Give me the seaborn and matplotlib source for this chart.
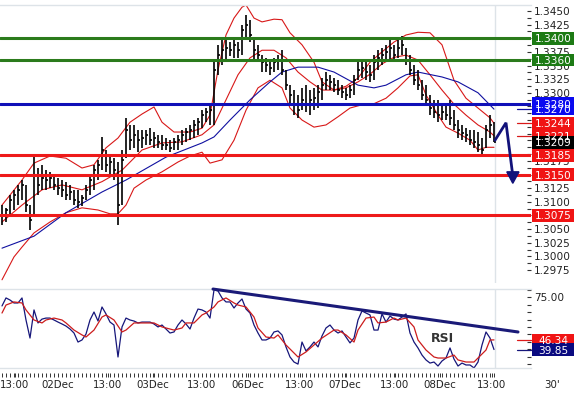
import matplotlib
matplotlib.use("Agg")
import numpy as np
import pandas as pd
import seaborn as sns
import matplotlib.pyplot as plt
from matplotlib.patches import Rectangle, Polygon
from matplotlib.ticker import FixedLocator

sns.set_theme(style="white")
plt.rcParams["font.family"] = ["DejaVu Sans"]

# ---------------- data (30' bars) ----------------
high = [1.3094, 1.3089, 1.3113, 1.3122, 1.3131, 1.3140, 1.3131, 1.3094, 1.3182, 1.3162,
        1.3168, 1.3158, 1.3155, 1.3149, 1.3144, 1.3140, 1.3137, 1.3131, 1.3122, 1.3122,
        1.3113, 1.3131, 1.3149, 1.3168, 1.3177, 1.3219, 1.3195, 1.3186, 1.3180, 1.3173,
        1.3195, 1.3254, 1.3241, 1.3241, 1.3232, 1.3232, 1.3232, 1.3235, 1.3228, 1.3223,
        1.3223, 1.3217, 1.3213, 1.3217, 1.3223, 1.3232, 1.3235, 1.3241, 1.3250, 1.3254,
        1.3268, 1.3272, 1.3278, 1.3360, 1.3388, 1.3397, 1.3397, 1.3393, 1.3397, 1.3393,
        1.3424, 1.3443, 1.3434, 1.3400, 1.3388, 1.3369, 1.3364, 1.3360, 1.3364, 1.3369,
        1.3378, 1.3342, 1.3314, 1.3305, 1.3296, 1.3309, 1.3314, 1.3305, 1.3309, 1.3314,
        1.3327, 1.3338, 1.3333, 1.3327, 1.3323, 1.3314, 1.3309, 1.3314, 1.3333, 1.3356,
        1.3360, 1.3356, 1.3351, 1.3369, 1.3378, 1.3382, 1.3388, 1.3397, 1.3388, 1.3397,
        1.3404, 1.3382, 1.3369, 1.3351, 1.3342, 1.3323, 1.3314, 1.3296, 1.3287, 1.3287,
        1.3278, 1.3281, 1.3287, 1.3268, 1.3250, 1.3241, 1.3235, 1.3232, 1.3232, 1.3228,
        1.3217, 1.3241, 1.3259, 1.3246]
low = [1.3058, 1.3063, 1.3076, 1.3085, 1.3094, 1.3103, 1.3081, 1.3048, 1.3076, 1.3113,
       1.3122, 1.3122, 1.3126, 1.3122, 1.3113, 1.3109, 1.3103, 1.3103, 1.3094, 1.3089,
       1.3092, 1.3103, 1.3113, 1.3122, 1.3140, 1.3158, 1.3155, 1.3149, 1.3140, 1.3058,
       1.3094, 1.3180, 1.3195, 1.3199, 1.3191, 1.3199, 1.3204, 1.3204, 1.3199, 1.3199,
       1.3195, 1.3195, 1.3191, 1.3195, 1.3195, 1.3204, 1.3210, 1.3213, 1.3217, 1.3223,
       1.3235, 1.3246, 1.3241, 1.3241, 1.3333, 1.3351, 1.3360, 1.3367, 1.3364, 1.3364,
       1.3369, 1.3397, 1.3393, 1.3360, 1.3356, 1.3338, 1.3338, 1.3333, 1.3338, 1.3342,
       1.3333, 1.3305, 1.3278, 1.3259, 1.3254, 1.3268, 1.3265, 1.3259, 1.3268, 1.3272,
       1.3287, 1.3305, 1.3305, 1.3301, 1.3296, 1.3290, 1.3287, 1.3290, 1.3296, 1.3323,
       1.3327, 1.3323, 1.3320, 1.3323, 1.3342, 1.3351, 1.3356, 1.3360, 1.3356, 1.3364,
       1.3369, 1.3351, 1.3333, 1.3314, 1.3305, 1.3287, 1.3278, 1.3259, 1.3254, 1.3246,
       1.3250, 1.3250, 1.3241, 1.3232, 1.3217, 1.3213, 1.3210, 1.3204, 1.3199, 1.3191,
       1.3182, 1.3199, 1.3217, 1.3210]
close = [1.3076, 1.3085, 1.3103, 1.3113, 1.3122, 1.3131, 1.3094, 1.3067, 1.3149, 1.3131,
         1.3144, 1.3140, 1.3144, 1.3131, 1.3126, 1.3122, 1.3113, 1.3118, 1.3103, 1.3100,
         1.3107, 1.3122, 1.3140, 1.3158, 1.3168, 1.3195, 1.3168, 1.3173, 1.3158, 1.3094,
         1.3177, 1.3232, 1.3213, 1.3223, 1.3213, 1.3217, 1.3223, 1.3213, 1.3217, 1.3210,
         1.3204, 1.3204, 1.3199, 1.3210, 1.3213, 1.3223, 1.3228, 1.3232, 1.3241, 1.3246,
         1.3259, 1.3265, 1.3268, 1.3342, 1.3369, 1.3378, 1.3382, 1.3378, 1.3388, 1.3378,
         1.3415, 1.3424, 1.3406, 1.3378, 1.3369, 1.3356, 1.3351, 1.3345, 1.3356, 1.3360,
         1.3342, 1.3314, 1.3296, 1.3278, 1.3268, 1.3287, 1.3278, 1.3287, 1.3290, 1.3301,
         1.3314, 1.3323, 1.3320, 1.3314, 1.3305, 1.3301, 1.3296, 1.3305, 1.3323, 1.3342,
         1.3345, 1.3338, 1.3333, 1.3356, 1.3364, 1.3369, 1.3375, 1.3382, 1.3369, 1.3382,
         1.3388, 1.3360, 1.3342, 1.3323, 1.3314, 1.3296, 1.3287, 1.3272, 1.3265, 1.3259,
         1.3265, 1.3259, 1.3254, 1.3241, 1.3232, 1.3226, 1.3223, 1.3213, 1.3210, 1.3204,
         1.3195, 1.3232, 1.3241, 1.3209]

# Bollinger bands (upper / middle / lower) and moving average, sampled by bar index
upper_idx = [0, 5, 8, 12, 16, 20, 23, 26, 29, 32, 35, 38, 40, 43, 47, 50, 52, 54, 56, 58,
             60, 61, 63, 65, 68, 70, 72, 75, 78, 80, 83, 86, 89, 92, 95, 98, 101, 104, 107,
             110, 113, 116, 119, 122, 123]
upper = [1.3094, 1.3140, 1.3171, 1.3184, 1.3180, 1.3162, 1.3168, 1.3199, 1.3217, 1.3246,
         1.3261, 1.3274, 1.3246, 1.3228, 1.3228, 1.3235, 1.3259, 1.3342, 1.3406, 1.3437,
         1.3457, 1.3461, 1.3437, 1.3430, 1.3435, 1.3434, 1.3410, 1.3388, 1.3356, 1.3320,
         1.3305, 1.3312, 1.3327, 1.3356, 1.3375, 1.3393, 1.3406, 1.3411, 1.3410, 1.3388,
         1.3323, 1.3290, 1.3272, 1.3254, 1.3244]
middle_idx = [0, 5, 10, 15, 20, 25, 30, 35, 40, 45, 50, 53, 56, 59, 62, 65, 68, 71, 74,
              77, 80, 83, 86, 89, 92, 95, 98, 101, 104, 107, 110, 113, 116, 119, 122, 123]
middle = [1.3063, 1.3094, 1.3122, 1.3131, 1.3122, 1.3137, 1.3158, 1.3195, 1.3208, 1.3210,
          1.3223, 1.3241, 1.3287, 1.3333, 1.3364, 1.3378, 1.3378, 1.3364, 1.3338, 1.3320,
          1.3305, 1.3305, 1.3309, 1.3320, 1.3334, 1.3353, 1.3365, 1.3369, 1.3360, 1.3333,
          1.3305, 1.3279, 1.3259, 1.3241, 1.3228, 1.3221]
lower_idx = [0, 3, 5, 8, 12, 16, 20, 24, 27, 29, 31, 33, 36, 40, 44, 47, 50, 52, 55, 58,
             61, 64, 67, 70, 72, 75, 78, 81, 84, 87, 90, 93, 96, 99, 102, 104, 106, 109,
             111, 114, 117, 119, 121, 123]
lower = [1.2957, 1.2999, 1.3017, 1.3043, 1.3063, 1.3080, 1.3089, 1.3085, 1.3078, 1.3078,
         1.3094, 1.3125, 1.3140, 1.3155, 1.3173, 1.3184, 1.3191, 1.3171, 1.3177, 1.3213,
         1.3268, 1.3309, 1.3323, 1.3309, 1.3272, 1.3250, 1.3237, 1.3241, 1.3256, 1.3272,
         1.3278, 1.3280, 1.3290, 1.3309, 1.3331, 1.3333, 1.3296, 1.3259, 1.3237, 1.3226,
         1.3213, 1.3195, 1.3200, 1.3200]
ma_idx = [0, 8, 16, 25, 31, 41, 50, 53, 57, 62, 67, 70, 74, 79, 83, 89, 93, 96, 101, 104,
          110, 114, 119, 123]
ma = [1.3015, 1.3037, 1.3080, 1.3118, 1.3140, 1.3182, 1.3208, 1.3219, 1.3250, 1.3287,
      1.3320, 1.3338, 1.3347, 1.3347, 1.3338, 1.3314, 1.3309, 1.3314, 1.3333, 1.3338,
      1.3329, 1.3320, 1.3300, 1.3270]

# support / resistance levels
green_levels = [1.3400, 1.3360]
blue_levels = [1.3280]
red_levels = [1.3185, 1.3150, 1.3075]

# forecast arrow (time index, price)
arrow_idx = [123.25, 126.0, 127.75]
arrow_price = [1.3213, 1.3245, 1.3145]
arrowhead_idx = [126.2, 129.25, 127.7]
arrowhead_price = [1.3155, 1.3155, 1.3134]

# RSI
rsi = [69.3, 74.7, 73.3, 71.3, 71.3, 74.7, 59.8, 47.6, 66.6, 57.8,
       60.4, 61.1, 61.1, 59.8, 58.4, 57.1, 55.7, 53.7, 51.0, 44.9,
       46.3, 50.3, 59.8, 65.2, 59.1, 68.6, 63.9, 58.4, 56.4, 34.8,
       55.1, 61.1, 59.8, 59.1, 57.8, 58.4, 58.4, 58.4, 57.1, 55.1,
       56.4, 53.7, 51.0, 51.7, 56.4, 59.8, 57.1, 53.7, 61.1, 67.2,
       66.6, 65.2, 61.1, 80.1, 79.4, 74.7, 72.0, 72.0, 67.9, 71.3,
       74.0, 67.2, 64.5, 56.4, 51.0, 46.3, 46.3, 47.6, 51.7, 52.4,
       49.7, 41.6, 34.8, 31.4, 30.0, 44.9, 38.9, 41.6, 44.9, 41.6,
       49.0, 54.4, 56.4, 53.0, 51.0, 52.4, 48.3, 44.3, 47.6, 59.8,
       65.9, 64.5, 63.2, 53.0, 53.0, 63.9, 58.4, 62.5, 60.4, 59.8,
       61.8, 63.9, 51.0, 44.9, 40.9, 36.1, 32.8, 30.7, 31.4, 28.7,
       32.1, 34.1, 40.9, 33.4, 28.7, 30.7, 29.4, 29.4, 27.4, 31.4,
       42.9, 51.7, 47.6, 39.85]
rsi_sig_idx = [0, 1, 3, 5, 6, 8, 10, 11, 13, 15, 16, 18, 20, 21, 23, 25, 26, 28, 30, 31,
               33, 35, 38, 40, 43, 45, 46, 48, 50, 51, 53, 54, 56, 58, 59, 61, 63, 64, 66,
               68, 69, 71, 73, 74, 76, 78, 80, 83, 84, 86, 88, 89, 91, 93, 94, 96, 98, 99,
               101, 103, 104, 106, 108, 109, 111, 113, 114, 116, 118, 119, 121, 122, 123]
rsi_sig = [64.5, 69.9, 72.0, 71.3, 66.6, 59.8, 57.8, 59.8, 61.1, 59.8, 57.8, 53.0, 49.7,
           48.3, 53.0, 61.8, 63.2, 59.8, 51.7, 53.0, 57.8, 57.8, 57.8, 55.1, 53.0, 54.4,
           57.8, 57.8, 63.2, 64.5, 68.6, 72.0, 74.7, 71.3, 69.9, 68.6, 61.8, 54.4, 48.3,
           47.6, 49.7, 42.9, 37.5, 34.8, 38.2, 42.9, 47.6, 53.0, 53.0, 49.7, 44.9, 53.0,
           61.1, 61.8, 57.8, 58.4, 61.1, 59.8, 61.1, 55.1, 46.3, 39.5, 34.8, 34.1, 34.1,
           36.1, 32.8, 31.4, 31.4, 34.1, 39.5, 46.3, 46.34]
rsi_trend_idx = [52.75, 129.0]
rsi_trend = [80.7, 51.7]

# axis labels (labels hidden under value boxes are left blank)
price_ticks = [1.2975, 1.3000, 1.3025, 1.3050, 1.3075, 1.3100, 1.3125, 1.3150, 1.3175,
               1.3200, 1.3225, 1.3250, 1.3275, 1.3300, 1.3325, 1.3350, 1.3375, 1.3400,
               1.3425, 1.3450]
price_tick_labels = ["1.2975", "1.3000", "1.3025", "1.3050", "", "1.3100", "1.3125", "",
                     "1.3175", "", "", "", "", "1.3300", "1.3325", "1.3350", "1.3375", "",
                     "1.3425", "1.3450"]
rsi_ticks = [50, 75]
rsi_tick_labels = ["", "75.00"]
time_pos = [3.25, 14.0, 26.5, 37.75, 50.0, 61.5, 74.5, 85.75, 98.25, 109.5, 122.5]
time_labels = ["13:00", "02Dec", "13:00", "03Dec", "13:00", "06Dec", "13:00", "07Dec",
               "13:00", "08Dec", "13:00"]

# ---------------- figure ----------------
W, H = 574, 396
fig = plt.figure(figsize=(W / 100, H / 100), dpi=100)
fig.patch.set_facecolor("white")


def frac(left, top, w, h):
    return [left / W, 1 - (top + h) / H, w / W, h / H]


ax = fig.add_axes(frac(0, 5, 531, 278))
axr = fig.add_axes(frac(0, 289, 531, 79))
XLIM = (-0.5, 132.25)
for a in (ax, axr):
    a.set_facecolor("white")
    a.set_xlim(*XLIM)
    for s in ("left", "right", "bottom"):
        a.spines[s].set_visible(False)
    a.spines["top"].set_color("#dde3e8")
    a.spines["top"].set_linewidth(1.0)
    a.axvline(123.25, color="#dde3e8", lw=1.0, zorder=0)
axr.spines["bottom"].set_visible(True)
axr.spines["bottom"].set_color("#dde3e8")
axr.spines["bottom"].set_linewidth(1.0)

ax.set_ylim(1.29511, 1.34610)
axr.set_ylim(27.36, 80.74)

BAND_RED = "#d81818"
MA_BLUE = "#1010a0"

# bands and MA
sns.lineplot(x=upper_idx, y=upper, ax=ax, color=BAND_RED, lw=0.8, estimator=None, zorder=1)
sns.lineplot(x=middle_idx, y=middle, ax=ax, color=BAND_RED, lw=0.8, estimator=None, zorder=1)
sns.lineplot(x=lower_idx, y=lower, ax=ax, color=BAND_RED, lw=0.8, estimator=None, zorder=1)
sns.lineplot(x=ma_idx, y=ma, ax=ax, color=MA_BLUE, lw=0.8, estimator=None, zorder=1)
ax.set_xlabel("")
ax.set_ylabel("")

# price bars
idx = np.arange(len(close))
ax.vlines(idx, low, high, color="black", lw=1.2, zorder=2)
ax.hlines(close, idx, idx + 0.55, color="black", lw=1.2, zorder=2)

# levels
for p in green_levels:
    ax.axhline(p, color="#2b7b1c", lw=2.2, zorder=3)
for p in blue_levels:
    ax.axhline(p, color="#1010b8", lw=2.2, zorder=3)
for p in red_levels:
    ax.axhline(p, color="#ee1a1a", lw=2.2, zorder=3)

# arrow
ax.plot(arrow_idx, arrow_price, color="#12127a", lw=2.0, zorder=4, solid_joinstyle="miter")
ax.add_patch(Polygon(list(zip(arrowhead_idx, arrowhead_price)), closed=True,
                     facecolor="#12127a", edgecolor="#12127a", zorder=4))

# price axis
ax.yaxis.tick_right()
ax.set_yticks(price_ticks)
ax.set_yticklabels(price_tick_labels)
mids = [round(v + 0.00125, 5) for v in price_ticks]
ax.yaxis.set_minor_locator(FixedLocator(mids))
ax.tick_params(axis="y", which="both", direction="in", length=3, width=0.8,
               color="#333333", pad=2.2, labelsize=7.6, labelcolor="#222222",
               left=False, right=True)
ax.tick_params(axis="x", which="both", bottom=False, labelbottom=False)

# value boxes on right
bh_price = 12.5 * (1.34610 - 1.29511) / 278
x0 = 532 / 531
bw = 42 / 531
xc = 553 / 531


def vbox(a, val, text, color, h):
    tr = a.get_yaxis_transform()
    a.add_patch(Rectangle((x0, val - h / 2), bw, h, transform=tr, facecolor=color,
                          edgecolor="none", clip_on=False, zorder=5))
    a.text(xc, val, text, transform=tr, ha="center", va="center_baseline", color="white",
           fontsize=7.6, zorder=6, clip_on=False)


def marker(a, val, color):
    a.plot([128.75, XLIM[1]], [val, val], color=color, lw=0.9, clip_on=False, zorder=4)


marker(ax, ma[-1], MA_BLUE)
marker(ax, upper[-1], BAND_RED)
marker(ax, middle[-1], BAND_RED)

vbox(ax, 1.3400, "1.3400", "#1c7a14", bh_price)
vbox(ax, 1.3360, "1.3360", "#1c7a14", bh_price)
vbox(ax, ma[-1], f"{ma[-1]:.4f}", "#0a0af0", bh_price)
vbox(ax, 1.3280, "1.3280", "#0a0af0", bh_price)
vbox(ax, upper[-1], f"{upper[-1]:.4f}", "#f01414", bh_price)
vbox(ax, middle[-1], f"{middle[-1]:.4f}", "#f01414", bh_price)
vbox(ax, close[-1], f"{close[-1]:.4f}", "#000000", bh_price)
vbox(ax, 1.3185, "1.3185", "#f01414", bh_price)
vbox(ax, 1.3150, "1.3150", "#f01414", bh_price)
vbox(ax, 1.3075, "1.3075", "#f01414", bh_price)

# ---------------- RSI panel ----------------
sns.lineplot(x=np.arange(len(rsi)), y=rsi, ax=axr, color="#16167a", lw=0.9,
             estimator=None, zorder=2)
sns.lineplot(x=rsi_sig_idx, y=rsi_sig, ax=axr, color="#cc1c1c", lw=0.9,
             estimator=None, zorder=2)
axr.set_xlabel("")
axr.set_ylabel("")
axr.plot(rsi_trend_idx, rsi_trend, color="#1a1a78", lw=2.2, zorder=3, clip_on=False)
axr.text(110.0, 47.6, "RSI", ha="center", va="center", fontsize=9, fontweight="bold",
         color="#333333")

axr.yaxis.tick_right()
axr.set_yticks(rsi_ticks)
axr.set_yticklabels(rsi_tick_labels)
axr.yaxis.set_minor_locator(FixedLocator([30, 35, 40, 45, 55, 60, 65, 70, 80]))
axr.tick_params(axis="y", which="both", direction="in", length=3, width=0.8,
                color="#333333", pad=2.2, labelsize=7.6, labelcolor="#222222",
                left=False, right=True)
axr.tick_params(axis="x", which="both", bottom=False, labelbottom=False)

bh_rsi = 12.5 * (80.74 - 27.36) / 79
marker(axr, rsi_sig[-1], "#dd1a1a")
marker(axr, rsi[-1], "#16167a")
vbox(axr, rsi_sig[-1], f"{rsi_sig[-1]:.2f}", "#f01414", bh_rsi)
vbox(axr, rsi[-1], f"{rsi[-1]:.2f}", "#0a0a80", bh_rsi)

# time axis
sec = axr.secondary_xaxis(-5 / 79)
sec.set_xticks(time_pos, labels=time_labels)
sec.xaxis.set_minor_locator(FixedLocator(list(range(len(close)))))
sec.tick_params(which="both", direction="out", length=3, width=0.7, color="#333333",
                labelsize=7.4, pad=2, labelcolor="#222222")
for s in sec.spines.values():
    s.set_visible(False)

fig.text(552 / W, 1 - 385 / H, "30'", ha="center", va="center", fontsize=7.4,
         color="#222222")

fig.savefig("out.png", dpi=100)
